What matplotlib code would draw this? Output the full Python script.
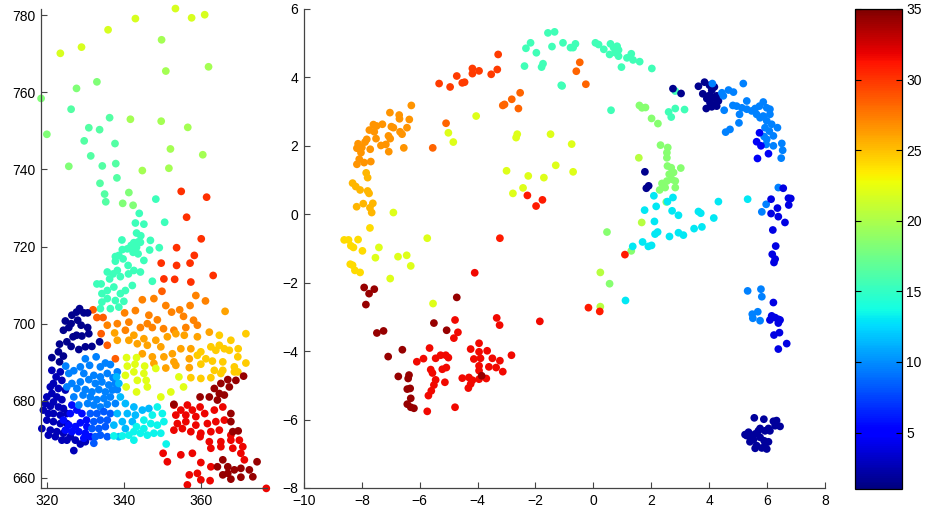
import numpy as np
import matplotlib
matplotlib.use('Agg')
import matplotlib.pyplot as plt
from matplotlib.colors import Normalize

plt.rcParams['font.family'] = ['Liberation Sans', 'DejaVu Sans']
plt.rcParams['font.size'] = 10

# ---- left panel: groups of points (x, y) and the value used for colour ----
L_YELLOW_X = [353.4, 343.0, 357.6, 361.0, 335.9, 323.5, 329.0]
L_YELLOW_Y = [781.7, 779.1, 779.3, 780.1, 776.2, 770.1, 771.7]

L_LIME_X = [349.8, 350.9, 362.0, 341.7, 349.7, 356.6, 352.1, 360.5, 344.8, 351.7]
L_LIME_Y = [773.6, 765.5, 766.6, 753.0, 752.5, 750.9, 745.3, 743.8, 739.7, 740.3]

L_LGREEN_X = [333.0, 327.7, 318.5, 320.0, 325.7, 341.3, 339.7, 342.4]
L_LGREEN_Y = [762.7, 761.0, 758.4, 749.1, 740.8, 734.0, 731.2, 730.7]

L_SEA_X = [326.3, 336.3, 330.9, 333.7, 329.7, 337.7, 331.4, 334.4, 337.9, 338.2, 333.8, 335.0, 335.3]
L_SEA_Y = [755.6, 753.4, 750.8, 750.3, 747.4, 746.7, 743.5, 740.9, 741.5, 737.8, 736.4, 733.6, 731.6]

L_AQUA_X = [348.3, 344.0, 343.0, 345.2, 350.6, 343.3, 344.4, 339.5, 346.9, 342.6, 343.7, 341.9, 343.0,
            349.2, 339.6, 340.9, 346.7, 342.2, 343.3, 344.3, 337.8, 338.7, 339.8, 341.1, 342.4, 343.7,
            345.2, 337.8, 335.7, 337.2, 336.3, 338.3, 339.1, 341.2, 342.6, 344.3, 347.4, 334.1, 333.0,
            334.3, 335.7, 337.4, 339.1, 340.4, 342.2, 334.3, 335.7, 337.8, 340.0, 333.9, 336.5, 338.7]
L_AQUA_Y = [732.3, 728.6, 726.1, 725.8, 726.3, 723.5, 722.8, 721.7, 721.6, 721.0, 721.2, 720.3, 720.0,
            719.7, 719.2, 719.4, 719.1, 719.4, 719.8, 721.1, 717.4, 717.7, 716.8, 715.1, 718.5, 718.1,
            716.4, 716.2, 713.4, 712.9, 711.6, 713.8, 712.2, 712.9, 713.8, 713.4, 711.0, 710.3, 710.3,
            707.8, 708.6, 709.5, 707.8, 708.6, 709.9, 705.6, 706.5, 706.0, 705.8, 703.9, 703.9, 704.3]

L_RED_TOP_X = [354.9, 361.5, 356.3, 360.1, 353.7, 358.3, 349.7, 353.7, 357.2, 363.2, 350.4, 353.2, 357.4]
L_RED_TOP_Y = [734.3, 732.8, 727.6, 722.0, 719.7, 717.7, 715.7, 715.1, 715.7, 712.5, 711.6, 711.5, 710.8]

L_ORED_X = [349.9, 332.0, 333.0, 334.6, 334.1, 335.7, 337.8]
L_ORED_Y = [708.4, 703.6, 701.6, 701.6, 697.4, 694.4, 690.9]

L_ORANGE_D_X = [344.8, 347.8, 350.9, 352.4, 354.5, 355.5, 357.2, 358.7, 361.2, 340.2, 343.0, 346.5, 348.7,
                346.1, 341.3, 338.3, 335.7, 340.4, 344.3, 347.4, 350.3, 353.0, 356.1, 358.1, 359.1]
L_ORANGE_D_Y = [706.2, 706.5, 704.7, 703.0, 703.6, 701.9, 704.7, 707.3, 705.9, 702.8, 703.4, 702.2, 701.0,
                700.0, 700.4, 700.0, 699.6, 698.3, 699.0, 699.0, 698.7, 698.3, 699.0, 700.9, 699.6]

L_ORANGE_M_X = [337.6, 342.6, 345.2, 348.3, 351.3, 353.5, 355.7, 359.1, 338.3, 341.3, 343.5, 346.1, 349.6,
                352.6, 354.8, 357.4, 344.8, 347.4, 350.4, 353.0, 357.0, 347.8, 350.9, 353.5, 357.0, 362.2,
                366.3]
L_ORANGE_M_Y = [697.6, 697.0, 696.1, 695.7, 696.6, 697.4, 697.0, 696.6, 695.7, 695.7, 694.8, 694.4, 694.0,
                692.2, 693.5, 693.5, 692.2, 691.4, 691.4, 690.1, 690.9, 689.7, 688.5, 689.2, 688.6, 697.8,
                703.2]

L_ORANGE_L_X = [364.8, 367.8, 371.7, 362.6, 364.8, 366.1, 369.7, 360.0, 363.9, 367.4, 369.6, 371.7, 359.1,
                361.3, 363.0, 365.7, 368.7, 369.6, 360.0, 363.5, 365.7, 368.7, 357.4, 360.0, 362.6, 365.2]
L_ORANGE_L_Y = [697.0, 695.7, 697.4, 694.0, 694.4, 693.5, 693.5, 692.7, 693.1, 693.1, 691.4, 689.8, 691.8,
                690.9, 690.3, 690.1, 688.8, 687.5, 689.5, 687.9, 687.9, 687.5, 686.0, 685.8, 686.0, 687.1]

L_YELLOW2_X = [340.7, 343.3, 342.9, 340.9, 345.4, 348.3, 342.6, 345.2, 340.4, 343.5, 345.8, 340.6, 343.3,
               346.1, 354.3, 349.6, 352.2, 355.5]
L_YELLOW2_Y = [691.2, 691.2, 689.5, 689.0, 689.0, 688.4, 687.5, 687.1, 686.6, 685.3, 685.3, 683.6, 682.3,
               683.6, 686.2, 681.0, 682.3, 683.6]

L_NAVY_X = [328.5, 327.7, 329.6, 330.6, 326.5, 324.8, 326.3, 328.0, 328.9, 330.6, 325.7, 324.3, 327.7,
            329.1, 330.9, 326.8, 325.2, 323.3, 326.3, 328.3, 330.0, 331.7, 333.7, 323.0, 321.3, 323.3, 324.3]
L_NAVY_Y = [703.9, 703.0, 702.8, 702.8, 702.2, 700.7, 700.0, 700.9, 699.6, 699.0, 699.0, 698.3, 697.0,
            696.8, 697.4, 696.6, 695.3, 694.7, 694.1, 693.3, 694.0, 694.1, 695.3, 692.7, 691.2, 690.1, 691.6]

L_DNAVY_X = [321.3, 323.5, 322.4, 323.9, 321.7, 320.9, 323.0, 324.8, 321.3, 320.0, 322.6, 323.9, 321.7,
             319.6, 320.9, 323.0, 324.3, 319.1, 320.4, 321.7, 323.5, 325.2, 320.0, 321.7, 323.5, 325.2,
             318.7, 320.9, 322.6, 324.3, 326.1, 320.4, 322.2, 327.4, 328.7, 327.0, 330.0, 325.2, 323.9]
L_DNAVY_Y = [687.9, 687.5, 686.2, 685.3, 684.5, 683.6, 683.2, 682.8, 681.9, 681.0, 681.0, 680.3, 679.7,
             679.3, 678.6, 678.4, 678.0, 677.6, 676.7, 676.7, 676.3, 676.7, 675.0, 674.6, 674.1, 674.1,
             672.8, 672.4, 672.0, 671.6, 670.7, 671.1, 670.7, 669.8, 668.8, 667.1, 669.4, 669.8, 669.8]

L_BBLUE_X = [326.5, 327.8, 326.1, 329.1, 324.3, 325.7, 327.4, 328.7, 330.3, 324.8, 326.5, 328.3, 330.0,
             331.3, 329.6, 330.4]
L_BBLUE_Y = [678.9, 677.6, 676.7, 676.7, 675.0, 673.7, 673.3, 674.3, 675.0, 672.4, 672.0, 672.0, 671.6,
             670.7, 670.3, 673.3]

L_MBLUE_X = [330.0, 332.8, 335.2, 336.5, 338.3, 333.9, 331.1, 328.7, 327.0, 324.9, 325.7, 329.6, 332.2,
             333.9, 335.7, 337.2, 337.8, 336.1, 334.3, 332.6, 330.9, 328.7, 326.5, 325.2, 327.8, 330.0,
             331.7, 333.5, 335.2, 337.0, 338.3, 329.4, 331.3, 333.0, 334.8, 336.5, 327.0, 328.3, 330.6,
             332.2, 333.9, 335.7, 337.8]
L_MBLUE_Y = [690.9, 691.4, 689.8, 689.4, 687.5, 688.8, 689.2, 688.8, 687.8, 689.0, 687.1, 687.1, 686.6,
             686.2, 687.1, 686.0, 684.5, 684.1, 684.9, 684.5, 685.5, 684.9, 684.5, 683.6, 683.2, 682.9,
             682.3, 682.9, 682.3, 682.8, 682.9, 681.5, 681.0, 680.3, 680.6, 681.0, 681.0, 678.9, 679.3,
             678.9, 678.4, 679.1, 679.3]

L_LBLUE_X = [331.3, 333.0, 334.8, 336.5, 332.2, 333.9, 335.7, 331.7, 333.5, 335.2, 332.6, 333.9, 335.7, 332.2]
L_LBLUE_Y = [676.7, 676.7, 677.2, 676.7, 674.6, 675.0, 675.0, 672.8, 672.8, 673.3, 670.7, 671.1, 670.7, 669.0]

L_SKY_X = [338.7, 338.1, 339.1, 340.4, 342.6, 344.8, 346.5, 340.9, 343.0, 338.3, 339.6, 337.4, 338.7,
           340.4, 342.2]
L_SKY_Y = [684.5, 686.2, 681.0, 679.3, 678.4, 677.6, 678.0, 676.7, 676.3, 676.7, 674.6, 673.7, 670.7,
           672.8, 674.6]

L_CYAN_X = [348.7, 350.0, 347.4, 345.2, 343.3, 345.2, 347.0, 348.7, 350.4, 342.6, 344.3, 341.3, 346.1,
            347.8, 349.6, 342.6, 351.0, 339.6, 337.4]
L_CYAN_Y = [678.4, 676.7, 676.3, 675.0, 673.3, 672.8, 674.1, 673.7, 674.6, 672.0, 671.6, 671.1, 671.1,
            671.6, 671.6, 669.8, 668.8, 670.9, 670.9]

L_RED_X = [353.0, 354.8, 356.5, 357.8, 359.8, 353.5, 356.1, 358.7, 361.0, 363.5, 365.7, 353.9, 356.1,
           358.7, 361.7, 363.9, 366.1, 353.0, 355.2, 357.4, 360.0, 362.6, 364.8, 367.8, 359.8, 362.2,
           365.2, 367.8, 370.0, 362.6, 365.2, 368.3, 370.9, 350.2, 351.3, 354.8, 357.8, 370.4, 371.3,
           360.0, 362.6, 357.0, 359.1, 356.5, 360.0, 362.4, 377.0]
L_RED_Y = [678.9, 677.6, 678.9, 677.6, 678.4, 676.3, 676.3, 675.9, 676.7, 677.6, 678.4, 674.1, 674.6,
           673.7, 674.1, 674.6, 675.0, 672.4, 672.8, 672.0, 671.6, 672.0, 672.4, 671.1, 670.7, 669.4,
           669.4, 669.8, 669.8, 667.7, 668.1, 667.7, 668.1, 666.4, 664.2, 666.0, 666.4, 666.4, 664.7,
           664.0, 662.9, 660.8, 661.2, 658.2, 659.5, 659.3, 657.3]

L_DRED_X = [353.0, 359.8, 362.2, 363.5, 365.2, 367.0, 369.1, 371.1, 364.8, 366.1, 367.4, 364.3, 367.8,
            367.8, 368.3, 369.7, 365.7, 367.0, 368.7, 370.4, 364.3, 367.0, 372.6, 374.6, 373.5, 370.4,
            367.8, 365.7]
L_DRED_Y = [679.1, 681.0, 681.0, 683.2, 684.5, 685.5, 685.3, 686.4, 681.9, 681.5, 683.6, 680.2, 676.7,
            674.6, 672.0, 672.2, 664.7, 662.9, 662.1, 662.5, 662.9, 661.2, 662.1, 664.2, 660.3, 660.2,
            659.7, 660.8]

# ---- right panel ----
R_CYAN_TOP_X = [-1.57, -1.34, -2.17, -2.33, -1.97, -1.05, -1.43, -2.38, -1.74, -1.79, -1.11, -0.79,
                -0.62, -0.70, 0.07, 0.18, 0.36, 0.59, 0.70, 0.82, 0.87, 0.56, 0.76, 0.87, 1.16, 1.31,
                1.37, 1.60, 0.97, 2.02, -1.08, 0.61, 2.83, 2.60, 2.83, 2.69, 3.15]
R_CYAN_TOP_Y = [5.30, 5.33, 5.01, 4.85, 4.72, 5.01, 4.90, 4.33, 4.40, 4.30, 3.77, 4.87,
                4.98, 4.87, 5.01, 4.96, 4.82, 4.98, 4.87, 4.91, 4.80, 4.67, 4.72, 4.62, 4.57, 4.69,
                4.51, 4.46, 4.30, 4.26, 3.75, 3.04, 3.60, 2.99, 3.09, 2.84, 3.06]

R_NAVY_TOP_X = [3.63, 3.84, 4.01, 4.18, 4.09, 3.78, 3.98, 4.15, 4.26, 4.32, 4.03, 4.21, 3.90, 4.09,
                4.26, 3.92, 2.75, 3.03]
R_NAVY_TOP_Y = [3.74, 3.86, 3.77, 3.72, 3.62, 3.52, 3.46, 3.41, 3.46, 3.31, 3.26, 3.21, 3.09, 3.14,
                3.16, 3.38, 3.67, 3.53]

R_BLUE_ARC_X = [4.11, 4.49, 4.44, 4.67, 4.84, 5.18, 4.52, 4.82, 4.95, 5.13, 5.30, 5.30, 5.47, 5.59,
                5.74, 5.87, 5.99, 6.10, 5.05, 5.64, 5.76, 5.87, 5.99, 6.10, 6.16, 5.93, 6.08, 6.36,
                4.57, 4.72, 5.03, 6.22, 5.90, 5.99, 5.97, 6.22, 6.51, 6.54, 6.49]
R_BLUE_ARC_Y = [3.82, 3.46, 3.55, 3.63, 3.57, 3.82, 3.04, 3.18, 3.16, 3.11, 3.31, 3.07, 3.02, 3.09,
                3.16, 3.28, 3.11, 3.07, 2.92, 2.92, 2.82, 2.87, 2.73, 2.92, 2.63, 2.53, 2.43, 2.53,
                2.40, 2.48, 2.67, 2.29, 2.27, 2.19, 2.04, 2.00, 2.07, 1.87, 1.64]

R_DBLUE_X = [5.74, 5.64, 5.79, 6.05, 5.67]
R_DBLUE_Y = [2.38, 2.12, 2.00, 1.77, 1.63]

R_GREEN_X = [1.59, 1.68, 1.80, 2.01, 2.23, 2.32, 2.57, 2.54, 2.54, 2.56, 2.69, 3.02, 2.77, 2.62,
             2.71, 2.83, 2.54, 2.37, 2.48, 2.29, 2.83, 2.52, 0.56, 0.47, 1.31]
R_GREEN_Y = [3.18, 3.11, 3.12, 2.80, 2.65, 2.02, 1.95, 1.80, 1.65, 1.41, 1.36, 1.35, 1.22, 1.17,
             1.02, 0.97, 0.97, 0.90, 0.78, 0.71, 0.78, 0.36, -2.03, -0.52, -1.07]

R_LIME_X = [1.57, 1.67, 0.24, 0.24]
R_LIME_Y = [1.65, -0.24, -1.70, -2.70]

R_NAVY_MID_X = [1.78, 1.83, 1.91]
R_NAVY_MID_Y = [1.24, 0.76, 0.83]

R_CYAN_MID_X = [2.09, 2.75, 2.56, 2.17, 1.77, 2.72, 2.94, 3.63, 3.71, 2.11, 4.16, 4.32, 5.33, 2.13,
                2.22, 2.63, 2.94, 3.11, 3.48, 3.75, 1.70, 1.36, 1.90, 2.01, 1.11]
R_CYAN_MID_Y = [0.54, 0.49, 0.37, 0.23, 0.12, 0.10, -0.03, 0.08, 0.03, -0.21, -0.11, 0.37, 0.44, -0.58,
                -0.52, -0.65, -0.54, -0.61, -0.42, -0.37, -0.81, -0.94, -0.94, -0.91, -2.52]

R_BLUE_R_X = [5.97, 5.82, 6.39, 5.33, 5.79, 5.82, 5.49, 5.51, 5.68, 5.76]
R_BLUE_R_Y = [0.29, 0.07, 0.78, -2.24, -2.19, -2.41, -2.92, -3.04, -2.85, -3.11]

R_DBLUE_R_X = [6.14, 6.56, 6.74, 6.82, 6.75, 6.36, 6.14, 6.39, 6.62, 6.20, 6.30, 6.18, 6.28, 6.24,
               6.22, 6.16, 6.28, 6.39, 6.10, 6.45, 6.39, 6.43, 6.24, 6.68, 6.39]
R_DBLUE_R_Y = [0.44, 0.76, 0.47, 0.46, 0.27, 0.18, 0.02, -0.07, -0.24, -0.46, -0.93, -1.17, -1.31, -1.41,
               -2.58, -2.97, -3.02, -3.07, -3.09, -3.09, -3.18, -3.46, -3.53, -3.78, -3.94]

R_NAVY_BOT_X = [5.56, 5.89, 6.22, 6.33, 6.45, 6.28, 6.05, 5.76, 5.70, 5.93, 6.10, 5.24, 5.36, 5.47,
                5.59, 5.76, 5.90, 6.05, 5.53, 5.41, 5.64, 5.82, 5.99, 5.95, 5.59, 5.30]
R_NAVY_BOT_Y = [-5.95, -5.99, -6.05, -6.03, -6.20, -6.18, -6.26, -6.26, -6.33, -6.33, -6.33, -6.44,
                -6.37, -6.47, -6.42, -6.52, -6.62, -6.65, -6.59, -6.65, -6.76, -6.83, -6.86, -6.69,
                -6.84, -6.47]

R_RED_ARC_X = [-3.29, -3.32, -3.53, -3.95, -4.18, -4.18, -4.45, -4.53, -4.72, -4.95, -5.33]
R_RED_ARC_Y = [4.67, 4.23, 4.09, 4.19, 4.26, 4.11, 3.86, 3.84, 4.04, 3.72, 3.82]

R_ORED_X = [-2.53, -2.82, -3.07, -3.13, -2.59, -5.09, -5.55, -0.47, -0.59, -0.26]
R_ORED_Y = [3.55, 3.36, 3.21, 3.18, 3.09, 2.66, 1.94, 4.44, 4.18, 3.80]

R_ORANGE_HI_X = [-6.29, -7.03, -6.71, -6.70, -6.36, -7.29, -7.60, -7.49, -7.74, -7.57, -6.98, -6.91,
                 -6.44, -6.68, -6.61, -7.08, -7.02, -7.51, -7.83, -8.13, -7.89, -8.17, -8.00, -7.71,
                 -7.34, -7.17, -7.07, -6.55, -8.03, -8.09, -7.92, -7.69, -8.17]
R_ORANGE_HI_Y = [3.18, 2.97, 2.90, 2.79, 2.77, 2.63, 2.62, 2.58, 2.46, 2.41, 2.56, 2.53,
                 2.53, 2.41, 2.34, 2.29, 2.21, 2.21, 2.19, 2.06, 2.11, 1.93, 1.95, 1.90,
                 2.01, 2.04, 1.83, 1.94, 1.80, 1.61, 1.51, 1.54, 1.46]

R_ORANGE_MID_X = [-7.85, -7.80, -8.32, -8.21, -8.06, -7.80, -7.75, -7.95, -7.62, -8.18, -7.72, -7.66]
R_ORANGE_MID_Y = [1.21, 1.07, 0.91, 0.81, 0.71, 0.68, 0.61, 0.31, 0.32, 0.22, 0.19, 0.05]

R_ORANGE_LO_X = [-7.72, -8.61, -8.46, -8.13, -8.38, -8.29, -7.98, -8.40, -8.32, -8.24, -8.06]
R_ORANGE_LO_Y = [-0.40, -0.75, -0.75, -0.74, -0.92, -0.97, -1.07, -1.46, -1.49, -1.64, -1.70]

R_YELLOW_X = [-4.05, -5.01, -4.84, -6.91, -5.74, -7.41, -6.75, -6.45, -7.53, -2.63, -2.67, -1.48,
              -3.00, -2.25, -1.71, -1.30, -2.43, -2.78, -0.75, -0.70, -6.31, -7.02, -5.54]
R_YELLOW_Y = [2.87, 2.38, 2.11, 0.05, -0.70, -0.97, -1.24, -1.20, -1.27, 2.34, 2.24, 2.34,
              1.27, 1.12, 1.07, 1.43, 0.77, 0.61, 2.05, 1.24, -1.51, -1.88, -2.61]

R_RED_MID_X = [-2.28, -1.98, -1.76, -3.23, 1.09, -0.17, 0.22]
R_RED_MID_Y = [0.55, 0.24, 0.42, -0.70, -1.18, -2.73, -2.84]

R_RED_LOW_X = [-4.10, -4.78, -4.68, -4.82, -5.66, -5.87, -6.10, -5.45, -5.28, -5.10, -5.01, -5.62,
               -5.56, -5.22, -5.08, -5.45, -5.51, -5.60, -5.70, -5.13, -4.78, -5.74, -4.24, -3.95,
               -3.67, -3.95, -4.13, -3.90, -3.95, -3.61, -3.49, -3.36, -3.23, -3.13, -2.83, -1.85,
               -3.34, -3.24, -4.53, -4.30, -4.24, -4.32, -4.18, -3.95, -3.95, -3.70]
R_RED_LOW_Y = [-1.71, -3.09, -3.45, -3.62, -3.91, -4.22, -4.31, -4.21, -4.12, -4.12, -4.19, -4.54,
               -4.64, -4.53, -4.48, -4.84, -4.99, -5.16, -5.30, -4.91, -5.64, -5.76, -3.94, -3.77,
               -3.99, -4.02, -4.23, -4.21, -4.43, -4.46, -4.21, -4.48, -4.28, -4.60, -4.12, -3.13,
               -3.03, -3.24, -4.79, -4.77, -4.96, -5.08, -4.85, -4.57, -4.82, -4.80]

R_DRED_LOW_X = [-7.92, -7.75, -7.57, -7.86, -7.48, -7.25, -6.60, -7.09, -6.74, -6.37, -6.40, -6.43,
                -6.33, -6.31, -6.43, -6.31, -6.20, -4.72, -5.07, -5.51, -3.86]
R_DRED_LOW_Y = [-2.14, -2.32, -2.19, -2.64, -3.47, -3.41, -3.96, -4.16, -4.74, -4.70, -4.80, -5.11,
                -5.09, -5.38, -5.55, -5.64, -5.67, -2.43, -3.39, -3.18, -4.72]

left_groups = [
    (L_YELLOW_X, L_YELLOW_Y, 21.8), (L_LIME_X, L_LIME_Y, 19.6), (L_LGREEN_X, L_LGREEN_Y, 18.2),
    (L_SEA_X, L_SEA_Y, 16.3), (L_AQUA_X, L_AQUA_Y, 15.4), (L_RED_TOP_X, L_RED_TOP_Y, 30.2),
    (L_ORED_X, L_ORED_Y, 28.6), (L_ORANGE_D_X, L_ORANGE_D_Y, 27.2), (L_ORANGE_M_X, L_ORANGE_M_Y, 26.0),
    (L_ORANGE_L_X, L_ORANGE_L_Y, 24.6), (L_YELLOW2_X, L_YELLOW2_Y, 22.2), (L_NAVY_X, L_NAVY_Y, 1.4),
    (L_DNAVY_X, L_DNAVY_Y, 2.6), (L_BBLUE_X, L_BBLUE_Y, 5.6), (L_MBLUE_X, L_MBLUE_Y, 9.6),
    (L_LBLUE_X, L_LBLUE_Y, 8.2), (L_SKY_X, L_SKY_Y, 11.4), (L_CYAN_X, L_CYAN_Y, 13.4),
    (L_RED_X, L_RED_Y, 31.8), (L_DRED_X, L_DRED_Y, 34.3),
]

right_groups = [
    (R_CYAN_TOP_X, R_CYAN_TOP_Y, 15.5), (R_NAVY_TOP_X, R_NAVY_TOP_Y, 1.5),
    (R_BLUE_ARC_X, R_BLUE_ARC_Y, 9.6), (R_DBLUE_X, R_DBLUE_Y, 4.5),
    (R_GREEN_X, R_GREEN_Y, 18.4), (R_LIME_X, R_LIME_Y, 20.5), (R_NAVY_MID_X, R_NAVY_MID_Y, 1.5),
    (R_CYAN_MID_X, R_CYAN_MID_Y, 13.0), (R_BLUE_R_X, R_BLUE_R_Y, 9.6), (R_DBLUE_R_X, R_DBLUE_R_Y, 4.0),
    (R_NAVY_BOT_X, R_NAVY_BOT_Y, 1.8), (R_RED_ARC_X, R_RED_ARC_Y, 29.8), (R_ORED_X, R_ORED_Y, 28.3),
    (R_ORANGE_HI_X, R_ORANGE_HI_Y, 26.6), (R_ORANGE_MID_X, R_ORANGE_MID_Y, 25.4),
    (R_ORANGE_LO_X, R_ORANGE_LO_Y, 24.0), (R_YELLOW_X, R_YELLOW_Y, 22.0),
    (R_RED_MID_X, R_RED_MID_Y, 31.0), (R_RED_LOW_X, R_RED_LOW_Y, 31.6),
    (R_DRED_LOW_X, R_DRED_LOW_Y, 34.3),
]

cmap = plt.get_cmap('jet')
norm = Normalize(vmin=1, vmax=35)


def flatten(groups):
    xs, ys, cs = [], [], []
    for gx, gy, val in groups:
        xs += list(gx)
        ys += list(gy)
        cs += [val] * len(gx)
    return np.array(xs), np.array(ys), np.array(cs)


def style_axes(ax):
    for side in ['top', 'right']:
        ax.spines[side].set_visible(False)
    for side in ['left', 'bottom']:
        ax.spines[side].set_color('#444444')
        ax.spines[side].set_linewidth(0.9)
    ax.tick_params(direction='in', length=4, width=0.8, color='#444444', labelsize=10, pad=4)


fig = plt.figure(figsize=(9.25, 5.14), dpi=100)

ax_l = fig.add_axes([0.044, 0.0506, 0.2443, 0.932])
lx, ly, lc = flatten(left_groups)
ax_l.scatter(lx, ly, c=lc, cmap=cmap, norm=norm, s=31, linewidths=0, clip_on=False)
ax_l.set_xlim(318.4, 377.1)
ax_l.set_ylim(657.4, 781.6)
ax_l.set_xticks([320, 340, 360])
ax_l.set_yticks([660, 680, 700, 720, 740, 760, 780])
style_axes(ax_l)

ax_r = fig.add_axes([0.3286, 0.0506, 0.5632, 0.932])
rx, ry, rc = flatten(right_groups)
ax_r.scatter(rx, ry, c=rc, cmap=cmap, norm=norm, s=31, linewidths=0, clip_on=False)
ax_r.set_xlim(-10, 8)
ax_r.set_ylim(-8, 6)
ax_r.set_xticks(range(-10, 9, 2))
ax_r.set_yticks(range(-8, 7, 2))
style_axes(ax_r)

cax = fig.add_axes([0.9243, 0.0486, 0.0508, 0.934])
sm = plt.cm.ScalarMappable(norm=norm, cmap=cmap)
cb = fig.colorbar(sm, cax=cax)
cb.set_ticks([5, 10, 15, 20, 25, 30, 35])
cb.outline.set_linewidth(0.9)
cax.yaxis.set_ticks_position('both')
cax.tick_params(direction='in', length=4, width=0.8, labelleft=False, labelright=True,
                labelsize=10, pad=3)

fig.savefig('out.png', dpi=100)
